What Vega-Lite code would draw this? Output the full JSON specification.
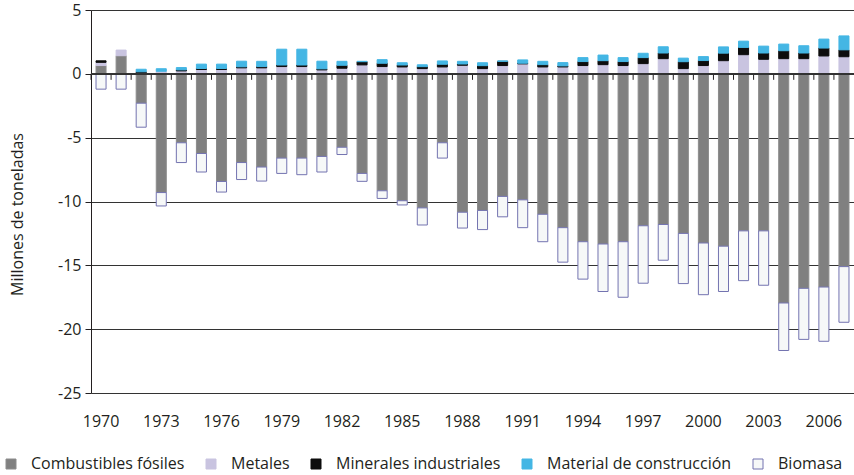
{
  "$schema": "https://vega.github.io/schema/vega-lite/v6.json",
  "width": 763,
  "height": 383,
  "autosize": {"type": "none"},
  "padding": {"left": 91, "top": 10, "right": 0, "bottom": 82},
  "background": "white",
  "config": {
    "view": {"stroke": null},
    "font": "Open Sans",
    "axis": {"labelFont": "Open Sans", "titleFont": "Open Sans", "labelColor": "#231f20", "titleColor": "#231f20", "labelFontSize": 16, "titleFontSize": 16, "titleFontWeight": "normal"}
  },
  "datasets": {
    "orden": [
      {"cat": "Combustibles fósiles", "k": 1},
      {"cat": "Metales", "k": 2},
      {"cat": "Minerales industriales", "k": 3},
      {"cat": "Material de construcción", "k": 4},
      {"cat": "Biomasa", "k": 5}
    ]
  },
  "data": {"values": [
    {"year": 1970, "cat": "Combustibles fósiles", "value": 0.65}, {"year": 1970, "cat": "Metales", "value": 0.25}, {"year": 1970, "cat": "Minerales industriales", "value": 0.12}, {"year": 1970, "cat": "Biomasa", "value": -1.2},
    {"year": 1971, "cat": "Combustibles fósiles", "value": 1.42}, {"year": 1971, "cat": "Metales", "value": 0.44}, {"year": 1971, "cat": "Biomasa", "value": -1.2},
    {"year": 1972, "cat": "Combustibles fósiles", "value": -2.3}, {"year": 1972, "cat": "Metales", "value": 0.08}, {"year": 1972, "cat": "Minerales industriales", "value": 0.08}, {"year": 1972, "cat": "Material de construcción", "value": 0.2}, {"year": 1972, "cat": "Biomasa", "value": -1.88},
    {"year": 1973, "cat": "Combustibles fósiles", "value": -9.3}, {"year": 1973, "cat": "Metales", "value": 0.2}, {"year": 1973, "cat": "Material de construcción", "value": 0.2}, {"year": 1973, "cat": "Biomasa", "value": -1.05},
    {"year": 1974, "cat": "Combustibles fósiles", "value": -5.4}, {"year": 1974, "cat": "Metales", "value": 0.23}, {"year": 1974, "cat": "Minerales industriales", "value": 0.08}, {"year": 1974, "cat": "Material de construcción", "value": 0.18}, {"year": 1974, "cat": "Biomasa", "value": -1.55},
    {"year": 1975, "cat": "Combustibles fósiles", "value": -6.24}, {"year": 1975, "cat": "Metales", "value": 0.34}, {"year": 1975, "cat": "Minerales industriales", "value": 0.08}, {"year": 1975, "cat": "Material de construcción", "value": 0.34}, {"year": 1975, "cat": "Biomasa", "value": -1.45},
    {"year": 1976, "cat": "Combustibles fósiles", "value": -8.43}, {"year": 1976, "cat": "Metales", "value": 0.34}, {"year": 1976, "cat": "Minerales industriales", "value": 0.08}, {"year": 1976, "cat": "Material de construcción", "value": 0.34}, {"year": 1976, "cat": "Biomasa", "value": -0.83},
    {"year": 1977, "cat": "Combustibles fósiles", "value": -6.95}, {"year": 1977, "cat": "Metales", "value": 0.47}, {"year": 1977, "cat": "Minerales industriales", "value": 0.08}, {"year": 1977, "cat": "Material de construcción", "value": 0.44}, {"year": 1977, "cat": "Biomasa", "value": -1.33},
    {"year": 1978, "cat": "Combustibles fósiles", "value": -7.3}, {"year": 1978, "cat": "Metales", "value": 0.47}, {"year": 1978, "cat": "Minerales industriales", "value": 0.1}, {"year": 1978, "cat": "Material de construcción", "value": 0.41}, {"year": 1978, "cat": "Biomasa", "value": -1.1},
    {"year": 1979, "cat": "Combustibles fósiles", "value": -6.6}, {"year": 1979, "cat": "Metales", "value": 0.57}, {"year": 1979, "cat": "Minerales industriales", "value": 0.12}, {"year": 1979, "cat": "Material de construcción", "value": 1.24}, {"year": 1979, "cat": "Biomasa", "value": -1.2},
    {"year": 1980, "cat": "Combustibles fósiles", "value": -6.6}, {"year": 1980, "cat": "Metales", "value": 0.57}, {"year": 1980, "cat": "Minerales industriales", "value": 0.12}, {"year": 1980, "cat": "Material de construcción", "value": 1.24}, {"year": 1980, "cat": "Biomasa", "value": -1.3},
    {"year": 1981, "cat": "Combustibles fósiles", "value": -6.47}, {"year": 1981, "cat": "Metales", "value": 0.31}, {"year": 1981, "cat": "Minerales industriales", "value": 0.08}, {"year": 1981, "cat": "Material de construcción", "value": 0.6}, {"year": 1981, "cat": "Biomasa", "value": -1.22},
    {"year": 1982, "cat": "Combustibles fósiles", "value": -5.75}, {"year": 1982, "cat": "Metales", "value": 0.44}, {"year": 1982, "cat": "Minerales industriales", "value": 0.23}, {"year": 1982, "cat": "Material de construcción", "value": 0.31}, {"year": 1982, "cat": "Biomasa", "value": -0.57},
    {"year": 1983, "cat": "Combustibles fósiles", "value": -7.8}, {"year": 1983, "cat": "Metales", "value": 0.7}, {"year": 1983, "cat": "Minerales industriales", "value": 0.25}, {"year": 1983, "cat": "Material de construcción", "value": 0.03}, {"year": 1983, "cat": "Biomasa", "value": -0.62},
    {"year": 1984, "cat": "Combustibles fósiles", "value": -9.16}, {"year": 1984, "cat": "Metales", "value": 0.57}, {"year": 1984, "cat": "Minerales industriales", "value": 0.26}, {"year": 1984, "cat": "Material de construcción", "value": 0.28}, {"year": 1984, "cat": "Biomasa", "value": -0.6},
    {"year": 1985, "cat": "Combustibles fósiles", "value": -9.94}, {"year": 1985, "cat": "Metales", "value": 0.54}, {"year": 1985, "cat": "Minerales industriales", "value": 0.15}, {"year": 1985, "cat": "Material de construcción", "value": 0.18}, {"year": 1985, "cat": "Biomasa", "value": -0.33},
    {"year": 1986, "cat": "Combustibles fósiles", "value": -10.5}, {"year": 1986, "cat": "Metales", "value": 0.41}, {"year": 1986, "cat": "Minerales industriales", "value": 0.15}, {"year": 1986, "cat": "Material de construcción", "value": 0.15}, {"year": 1986, "cat": "Biomasa", "value": -1.34},
    {"year": 1987, "cat": "Combustibles fósiles", "value": -5.4}, {"year": 1987, "cat": "Metales", "value": 0.54}, {"year": 1987, "cat": "Minerales industriales", "value": 0.21}, {"year": 1987, "cat": "Material de construcción", "value": 0.26}, {"year": 1987, "cat": "Biomasa", "value": -1.2},
    {"year": 1988, "cat": "Combustibles fósiles", "value": -10.84}, {"year": 1988, "cat": "Metales", "value": 0.67}, {"year": 1988, "cat": "Minerales industriales", "value": 0.1}, {"year": 1988, "cat": "Material de construcción", "value": 0.21}, {"year": 1988, "cat": "Biomasa", "value": -1.24},
    {"year": 1989, "cat": "Combustibles fósiles", "value": -10.7}, {"year": 1989, "cat": "Metales", "value": 0.41}, {"year": 1989, "cat": "Minerales industriales", "value": 0.23}, {"year": 1989, "cat": "Material de construcción", "value": 0.23}, {"year": 1989, "cat": "Biomasa", "value": -1.5},
    {"year": 1990, "cat": "Combustibles fósiles", "value": -9.6}, {"year": 1990, "cat": "Metales", "value": 0.65}, {"year": 1990, "cat": "Minerales industriales", "value": 0.33}, {"year": 1990, "cat": "Material de construcción", "value": 0.03}, {"year": 1990, "cat": "Biomasa", "value": -1.6},
    {"year": 1991, "cat": "Combustibles fósiles", "value": -9.87}, {"year": 1991, "cat": "Metales", "value": 0.78}, {"year": 1991, "cat": "Minerales industriales", "value": 0.05}, {"year": 1991, "cat": "Material de construcción", "value": 0.26}, {"year": 1991, "cat": "Biomasa", "value": -2.18},
    {"year": 1992, "cat": "Combustibles fósiles", "value": -11.0}, {"year": 1992, "cat": "Metales", "value": 0.54}, {"year": 1992, "cat": "Minerales industriales", "value": 0.18}, {"year": 1992, "cat": "Material de construcción", "value": 0.26}, {"year": 1992, "cat": "Biomasa", "value": -2.15},
    {"year": 1993, "cat": "Combustibles fósiles", "value": -12.05}, {"year": 1993, "cat": "Metales", "value": 0.54}, {"year": 1993, "cat": "Minerales industriales", "value": 0.08}, {"year": 1993, "cat": "Material de construcción", "value": 0.26}, {"year": 1993, "cat": "Biomasa", "value": -2.7},
    {"year": 1994, "cat": "Combustibles fósiles", "value": -13.15}, {"year": 1994, "cat": "Metales", "value": 0.65}, {"year": 1994, "cat": "Minerales industriales", "value": 0.31}, {"year": 1994, "cat": "Material de construcción", "value": 0.31}, {"year": 1994, "cat": "Biomasa", "value": -2.93},
    {"year": 1995, "cat": "Combustibles fósiles", "value": -13.33}, {"year": 1995, "cat": "Metales", "value": 0.72}, {"year": 1995, "cat": "Minerales industriales", "value": 0.31}, {"year": 1995, "cat": "Material de construcción", "value": 0.44}, {"year": 1995, "cat": "Biomasa", "value": -3.72},
    {"year": 1996, "cat": "Combustibles fósiles", "value": -13.15}, {"year": 1996, "cat": "Metales", "value": 0.65}, {"year": 1996, "cat": "Minerales industriales", "value": 0.31}, {"year": 1996, "cat": "Material de construcción", "value": 0.31}, {"year": 1996, "cat": "Biomasa", "value": -4.35},
    {"year": 1997, "cat": "Combustibles fósiles", "value": -11.9}, {"year": 1997, "cat": "Metales", "value": 0.8}, {"year": 1997, "cat": "Minerales industriales", "value": 0.47}, {"year": 1997, "cat": "Material de construcción", "value": 0.34}, {"year": 1997, "cat": "Biomasa", "value": -4.5},
    {"year": 1998, "cat": "Combustibles fósiles", "value": -11.8}, {"year": 1998, "cat": "Metales", "value": 1.19}, {"year": 1998, "cat": "Minerales industriales", "value": 0.44}, {"year": 1998, "cat": "Material de construcción", "value": 0.49}, {"year": 1998, "cat": "Biomasa", "value": -2.8},
    {"year": 1999, "cat": "Combustibles fósiles", "value": -12.5}, {"year": 1999, "cat": "Metales", "value": 0.41}, {"year": 1999, "cat": "Minerales industriales", "value": 0.54}, {"year": 1999, "cat": "Material de construcción", "value": 0.28}, {"year": 1999, "cat": "Biomasa", "value": -3.93},
    {"year": 2000, "cat": "Combustibles fósiles", "value": -13.25}, {"year": 2000, "cat": "Metales", "value": 0.65}, {"year": 2000, "cat": "Minerales industriales", "value": 0.39}, {"year": 2000, "cat": "Material de construcción", "value": 0.31}, {"year": 2000, "cat": "Biomasa", "value": -4.05},
    {"year": 2001, "cat": "Combustibles fósiles", "value": -13.5}, {"year": 2001, "cat": "Metales", "value": 1.03}, {"year": 2001, "cat": "Minerales industriales", "value": 0.59}, {"year": 2001, "cat": "Material de construcción", "value": 0.49}, {"year": 2001, "cat": "Biomasa", "value": -3.55},
    {"year": 2002, "cat": "Combustibles fósiles", "value": -12.3}, {"year": 2002, "cat": "Metales", "value": 1.5}, {"year": 2002, "cat": "Minerales industriales", "value": 0.57}, {"year": 2002, "cat": "Material de construcción", "value": 0.49}, {"year": 2002, "cat": "Biomasa", "value": -3.9},
    {"year": 2003, "cat": "Combustibles fósiles", "value": -12.3}, {"year": 2003, "cat": "Metales", "value": 1.14}, {"year": 2003, "cat": "Minerales industriales", "value": 0.49}, {"year": 2003, "cat": "Material de construcción", "value": 0.54}, {"year": 2003, "cat": "Biomasa", "value": -4.26},
    {"year": 2004, "cat": "Combustibles fósiles", "value": -17.95}, {"year": 2004, "cat": "Metales", "value": 1.19}, {"year": 2004, "cat": "Minerales industriales", "value": 0.62}, {"year": 2004, "cat": "Material de construcción", "value": 0.52}, {"year": 2004, "cat": "Biomasa", "value": -3.72},
    {"year": 2005, "cat": "Combustibles fósiles", "value": -16.8}, {"year": 2005, "cat": "Metales", "value": 1.19}, {"year": 2005, "cat": "Minerales industriales", "value": 0.44}, {"year": 2005, "cat": "Material de construcción", "value": 0.57}, {"year": 2005, "cat": "Biomasa", "value": -4.0},
    {"year": 2006, "cat": "Combustibles fósiles", "value": -16.7}, {"year": 2006, "cat": "Metales", "value": 1.4}, {"year": 2006, "cat": "Minerales industriales", "value": 0.62}, {"year": 2006, "cat": "Material de construcción", "value": 0.7}, {"year": 2006, "cat": "Biomasa", "value": -4.25},
    {"year": 2007, "cat": "Combustibles fósiles", "value": -15.1}, {"year": 2007, "cat": "Metales", "value": 1.34}, {"year": 2007, "cat": "Minerales industriales", "value": 0.54}, {"year": 2007, "cat": "Material de construcción", "value": 1.09}, {"year": 2007, "cat": "Biomasa", "value": -4.36}
  ]},
  "layer": [
    {
      "transform": [{"lookup": "cat", "from": {"data": {"name": "orden"}, "key": "cat", "fields": ["k"]}}],
      "mark": {"type": "bar", "strokeWidth": 1},
      "encoding": {
        "x": {
          "field": "year", "type": "ordinal",
          "scale": {"paddingInner": 0.5, "paddingOuter": 0.25},
          "axis": {"values": [1970, 1973, 1976, 1979, 1982, 1985, 1988, 1991, 1994, 1997, 2000, 2003, 2006], "ticks": false, "domain": false, "grid": false, "labelAngle": 0, "labelPadding": 20, "title": null}
        },
        "y": {
          "field": "value", "type": "quantitative", "stack": "zero",
          "scale": {"domain": [-25, 5], "nice": false, "zero": false},
          "axis": {"values": [-25, -20, -15, -10, -5, 0, 5], "labelExpr": "'' + datum.value", "title": "Millones de toneladas", "titlePadding": 32, "titleY": 204, "grid": true, "gridColor": "#333333", "gridOpacity": 1, "domain": true, "domainColor": "#231f20", "ticks": true, "tickSize": 6, "tickColor": "#231f20", "labelPadding": 4}
        },
        "order": {"field": "k", "type": "quantitative", "sort": "ascending"},
        "fill": {
          "field": "cat", "type": "nominal",
          "sort": ["Combustibles fósiles", "Metales", "Minerales industriales", "Material de construcción", "Biomasa"],
          "scale": {"domain": ["Combustibles fósiles", "Metales", "Minerales industriales", "Material de construcción", "Biomasa"], "range": ["#808080", "#c9c4e0", "#0d0d0d", "#44b6e4", "#f6f8f8"]},
          "legend": {"title": null, "orient": "none", "legendX": -88, "legendY": 446, "direction": "horizontal", "symbolType": "square", "symbolSize": 100, "symbolStrokeWidth": 1, "labelFont": "Open Sans", "labelFontSize": 16, "labelColor": "#231f20", "labelLimit": 400, "columnPadding": 18, "labelOffset": 12}
        },
        "stroke": {
          "field": "cat", "type": "nominal",
          "sort": ["Combustibles fósiles", "Metales", "Minerales industriales", "Material de construcción", "Biomasa"],
          "scale": {"domain": ["Combustibles fósiles", "Metales", "Minerales industriales", "Material de construcción", "Biomasa"], "range": ["#8c8c8c", "#c9c4e0", "#0d0d0d", "#44b6e4", "#7373b0"]},
          "legend": {"title": null, "orient": "none", "legendX": -88, "legendY": 446, "direction": "horizontal", "symbolType": "square", "symbolSize": 100, "symbolStrokeWidth": 1, "labelFont": "Open Sans", "labelFontSize": 16, "labelColor": "#231f20", "labelLimit": 400, "columnPadding": 18, "labelOffset": 12}
        }
      }
    },
    {
      "transform": [{"filter": "datum.cat === 'Metales'"}],
      "mark": {"type": "rule", "color": "#231f20", "strokeWidth": 1},
      "encoding": {
        "x": {"field": "year", "type": "ordinal", "bandPosition": -0.5},
        "y": {"datum": 0, "type": "quantitative"},
        "y2": {"datum": -0.47}
      }
    },
    {
      "mark": {"type": "rule", "color": "#333333", "strokeWidth": 1.5},
      "encoding": {"y": {"datum": 0, "type": "quantitative"}}
    }
  ]
}
